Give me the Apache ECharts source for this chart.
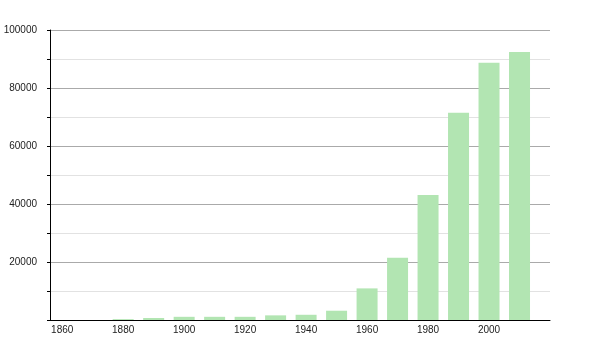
<!DOCTYPE html>
<html>
<head>
<meta charset="utf-8">
<script src="https://cdn.jsdelivr.net/npm/echarts@6/dist/echarts.min.js"></script>
<style>html,body{margin:0;padding:0;background:#fff}#c{width:600px;height:350px}</style>
</head>
<body>
<div id="c"></div>
<script>
const years = [1880, 1890, 1900, 1910, 1920, 1930, 1940, 1950, 1960, 1970, 1980, 1990, 2000, 2010];
const population = [300, 700, 1100, 1100, 1100, 1600, 1800, 3200, 10900, 21500, 43100, 71500, 88700, 92400];
const yTickLabels = [20000, 40000, 60000, 80000, 100000];
const xTickLabels = [1860, 1880, 1900, 1920, 1940, 1960, 1980, 2000];

const chart = echarts.init(document.getElementById('c'), null, {renderer: 'canvas'});
const font = 'Liberation Sans, Arial, sans-serif';
chart.setOption({
  animation: false,
  grid: {left: 50, right: 50, top: 30, bottom: 30, containLabel: false},
  xAxis: {
    type: 'value', min: 1856, max: 2020, interval: 4,
    axisLine: {show: true, onZero: false, lineStyle: {color: '#000', width: 1}},
    axisTick: {show: false},
    splitLine: {show: false},
    axisLabel: {
      color: '#222', fontSize: 10, fontFamily: font, margin: 5,
      showMinLabel: true, showMaxLabel: false,
      formatter: v => xTickLabels.includes(v) ? String(v) : ''
    }
  },
  yAxis: {
    type: 'value', min: 0, max: 100000, interval: 10000,
    axisLine: {show: true, lineStyle: {color: '#000', width: 1}},
    axisTick: {show: true, length: 3, lineStyle: {color: '#000'}},
    splitLine: {show: true, lineStyle: {color: ['#aaaaaa', '#e2e2e2'], width: 1}},
    axisLabel: {
      color: '#222', fontSize: 10, fontFamily: font, margin: 13,
      formatter: v => yTickLabels.includes(v) ? String(v) : ''
    }
  },
  series: [{
    type: 'bar',
    data: years.map((y, i) => [y, population[i]]),
    barWidth: 21,
    itemStyle: {color: '#b2e5b2'}
  }]
});
</script>
</body>
</html>
